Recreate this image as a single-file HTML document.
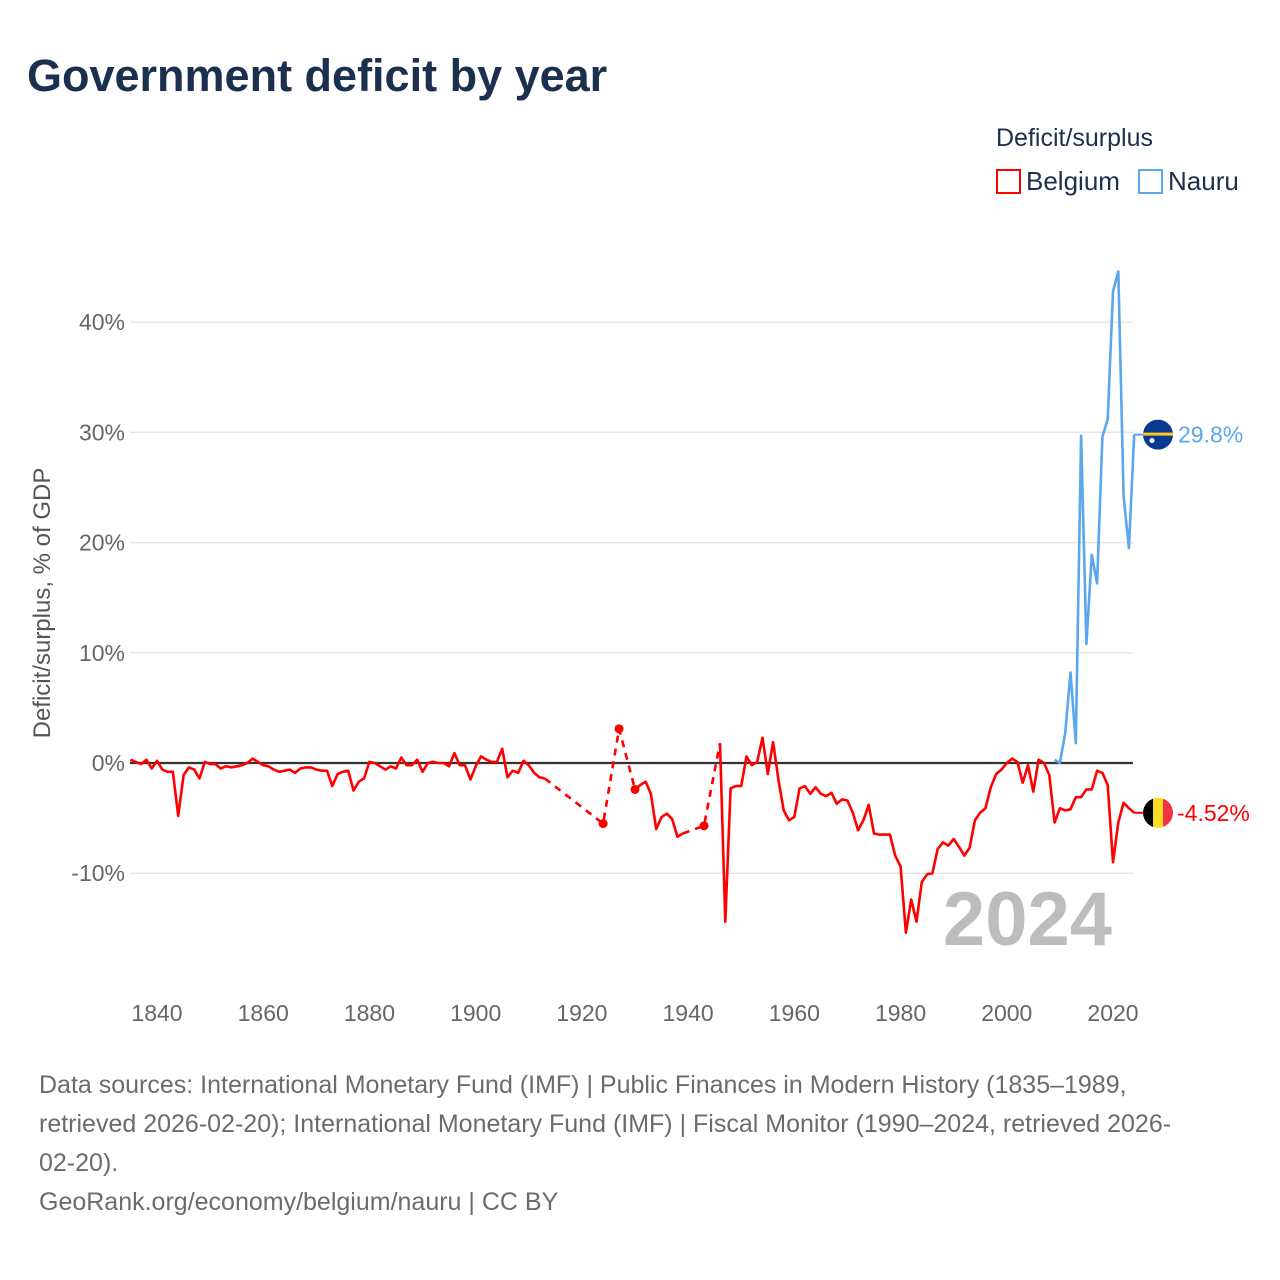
<!DOCTYPE html>
<html><head><meta charset="utf-8"><style>
body{margin:0;background:#fff;font-family:"Liberation Sans",sans-serif;}
#wrap{position:relative;width:1280px;height:1280px;overflow:hidden;}
.t{position:absolute;white-space:nowrap;}
</style></head><body>
<div id="wrap">
<div class="t" style="left:27px;top:50px;font-size:45px;font-weight:bold;color:#1b2f4e;">Government deficit by year</div>
<div class="t" style="left:996px;top:124px;font-size:25px;color:#1b2f4e;">Deficit/surplus</div>
<div class="t" style="left:996px;top:166px;font-size:26px;color:#1b2f4e;"><span style="display:inline-block;width:25px;height:25px;border:2px solid #ff0000;vertical-align:-4px;margin-right:5px;box-sizing:border-box;"></span>Belgium</div>
<div class="t" style="left:1138px;top:166px;font-size:26px;color:#1b2f4e;"><span style="display:inline-block;width:25px;height:25px;border:2px solid #5aa6ef;vertical-align:-4px;margin-right:5px;box-sizing:border-box;"></span>Nauru</div>
<svg id="chart" width="1280" height="1280" style="position:absolute;left:0;top:0;"></svg>
<div class="t" style="left:39px;top:1066px;font-size:25px;line-height:39px;color:#6b6b6b;">Data sources: International Monetary Fund (IMF) | Public Finances in Modern History (1835–1989,<br>retrieved 2026-02-20); International Monetary Fund (IMF) | Fiscal Monitor (1990–2024, retrieved 2026-<br>02-20).<br>GeoRank.org/economy/belgium/nauru | CC BY</div>
</div>
<script>
const yTicks=[-10,0,10,20,30,40];
const xTicks=[1840,1860,1880,1900,1920,1940,1960,1980,2000,2020];
const belA_years=[1835,1836,1837,1838,1839,1840,1841,1842,1843,1844,1845,1846,1847,1848,1849,1850,1851,1852,1853,1854,1855,1856,1857,1858,1859,1860,1861,1862,1863,1864,1865,1866,1867,1868,1869,1870,1871,1872,1873,1874,1875,1876,1877,1878,1879,1880,1881,1882,1883,1884,1885,1886,1887,1888,1889,1890,1891,1892,1893,1894,1895,1896,1897,1898,1899,1900,1901,1902,1903,1904,1905,1906,1907,1908,1909,1910,1911,1912,1913];
const belA_vals=[0.3,0.1,-0.1,0.3,-0.5,0.2,-0.6,-0.8,-0.8,-4.8,-1.1,-0.4,-0.6,-1.4,0.1,-0.1,-0.1,-0.5,-0.3,-0.4,-0.3,-0.2,0.0,0.4,0.1,-0.2,-0.3,-0.6,-0.8,-0.7,-0.6,-0.9,-0.5,-0.4,-0.4,-0.6,-0.7,-0.7,-2.1,-1.0,-0.8,-0.7,-2.5,-1.7,-1.4,0.1,0.0,-0.3,-0.6,-0.3,-0.5,0.5,-0.2,-0.2,0.3,-0.8,0.0,0.1,0.0,0.0,-0.3,0.9,-0.2,-0.2,-1.5,-0.3,0.6,0.3,0.1,0.1,1.3,-1.3,-0.7,-0.9,0.2,-0.2,-0.9,-1.3,-1.4];
const belB_years=[1931,1932,1933,1934,1935,1936,1937,1938,1939];
const belB_vals=[-2.0,-1.7,-2.8,-6.0,-4.9,-4.6,-5.1,-6.7,-6.4];
const belC_years=[1946,1947,1948,1949,1950,1951,1952,1953,1954,1955,1956,1957,1958,1959,1960,1961,1962,1963,1964,1965,1966,1967,1968,1969,1970,1971,1972,1973,1974,1975,1976,1977,1978,1979,1980,1981,1982,1983,1984,1985,1986,1987,1988,1989,1990,1991,1992,1993,1994,1995,1996,1997,1998,1999,2000,2001,2002,2003,2004,2005,2006,2007,2008,2009,2010,2011,2012,2013,2014,2015,2016,2017,2018,2019,2020,2021,2022,2023,2024];
const belC_vals=[1.8,-14.4,-2.3,-2.1,-2.1,0.6,-0.2,0.1,2.3,-1.0,1.9,-1.5,-4.3,-5.2,-4.9,-2.3,-2.1,-2.8,-2.2,-2.8,-3.0,-2.7,-3.7,-3.3,-3.4,-4.5,-6.1,-5.2,-3.8,-6.4,-6.5,-6.5,-6.5,-8.4,-9.4,-15.4,-12.4,-14.4,-10.8,-10.1,-10.0,-7.8,-7.2,-7.5,-6.9,-7.6,-8.4,-7.7,-5.2,-4.5,-4.1,-2.2,-1.0,-0.6,0.0,0.4,0.1,-1.8,-0.2,-2.6,0.3,0.0,-1.1,-5.4,-4.1,-4.3,-4.2,-3.1,-3.1,-2.4,-2.4,-0.7,-0.9,-2.0,-9.0,-5.4,-3.6,-4.1,-4.52];
const belPoint_years=[1924,1927,1930,1943];
const belPoint_vals=[-5.5,3.1,-2.4,-5.7];
const nauru_years=[2009,2010,2011,2012,2013,2014,2015,2016,2017,2018,2019,2020,2021,2022,2023,2024];
const nauru_vals=[0.3,0.0,2.7,8.2,1.8,29.7,10.8,18.9,16.3,29.6,31.2,42.8,44.6,24.2,19.5,29.8];

const X=y=>157+(y-1840)*(1113-157)/180;
const Y=v=>763-v*11.02;
const svg=document.getElementById('chart');
const NS='http://www.w3.org/2000/svg';
function mk(tag,attrs){const e=document.createElementNS(NS,tag);for(const k in attrs)e.setAttribute(k,attrs[k]);svg.appendChild(e);return e;}
yTicks.forEach(v=>{
 if(v!==0){const g=mk('line',{x1:130,x2:1133,y1:Y(v),y2:Y(v),stroke:'#e6e6e6','stroke-width':1.5});
 
 }
 const t=mk('text',{x:125,y:Y(v)+8,'text-anchor':'end','font-size':23,fill:'#666','font-family':'Liberation Sans, sans-serif'});
 t.textContent=v+'%';
 
 
});
xTicks.forEach(y=>{
 const t=mk('text',{x:X(y),y:1021,'text-anchor':'middle','font-size':23,fill:'#666','font-family':'Liberation Sans, sans-serif'});
 t.textContent=y;
 
 
});
const yt=mk('text',{transform:'translate(50,603) rotate(-90)','text-anchor':'middle','font-size':24,fill:'#555','font-family':'Liberation Sans, sans-serif'});
yt.textContent='Deficit/surplus, % of GDP';


const yr=mk('text',{x:1112,y:945,'text-anchor':'end','font-size':76,'font-weight':'bold',fill:'#bdbdbd','font-family':'Liberation Sans, sans-serif'});
yr.textContent='2024';


const zl=mk('line',{x1:130,x2:1133,y1:Y(0),y2:Y(0),stroke:'#333','stroke-width':2.2});


function pts(ys,vs){return ys.map((y,i)=>X(y).toFixed(1)+','+Y(vs[i]).toFixed(1)).join(' ');}
function line(ys,vs,col,dash,name){const p=mk('polyline',{points:pts(ys,vs),fill:'none',stroke:col,'stroke-width':2.6,'stroke-linejoin':'round'});if(dash)p.setAttribute('stroke-dasharray','7,6');
 
 }
line([1913,1924,1927,1930,1931],[belA_vals[belA_vals.length-1],belPoint_vals[0],belPoint_vals[1],belPoint_vals[2],belB_vals[0]],'#ff0000',true,'belgium-gap-1');
line([1939,1943,1946],[belB_vals[belB_vals.length-1],belPoint_vals[3],belC_vals[0]],'#ff0000',true,'belgium-gap-2');
line(belA_years,belA_vals,'#ff0000',false,'belgium-line-a');
line(belB_years,belB_vals,'#ff0000',false,'belgium-line-b');
line(belC_years,belC_vals,'#ff0000',false,'belgium-line-c');
belPoint_years.forEach((y,i)=>{const c=mk('circle',{cx:X(y),cy:Y(belPoint_vals[i]),r:4.5,fill:'#ff0000'});
 
 });
line(nauru_years,nauru_vals,'#5aa6ef',false,'nauru-line');
const nv=nauru_vals[nauru_vals.length-1], bv=belC_vals[belC_vals.length-1];
const nx=X(2024);
const nl=mk('line',{x1:nx,x2:1143,y1:Y(nv),y2:Y(nv),stroke:'#5aa6ef','stroke-width':2});


const bl=mk('line',{x1:nx,x2:1143,y1:Y(bv),y2:Y(bv),stroke:'#ff0000','stroke-width':2});


const g1=mk('g',{});


g1.innerHTML=`<clipPath id="cn"><circle cx="1158" cy="${Y(nv)}" r="15"/></clipPath><g clip-path="url(#cn)"><rect x="1143" y="${Y(nv)-15}" width="30" height="30" fill="#0a3a8f"/><rect x="1143" y="${Y(nv)-2}" width="30" height="3" fill="#ffc61e"/><circle cx="1152" cy="${Y(nv)+6}" r="2.5" fill="#fff"/></g>`;
const g2=mk('g',{});


g2.innerHTML=`<clipPath id="cb"><circle cx="1158" cy="${Y(bv)}" r="15"/></clipPath><g clip-path="url(#cb)"><rect x="1143" y="${Y(bv)-15}" width="10" height="30" fill="#000"/><rect x="1153" y="${Y(bv)-15}" width="10" height="30" fill="#fdda24"/><rect x="1163" y="${Y(bv)-15}" width="10" height="30" fill="#ef3340"/></g>`;
const nt=mk('text',{x:1178,y:Y(nv)+8,'font-size':23,fill:'#5aa6ef','font-family':'Liberation Sans, sans-serif'});
nt.textContent=nv.toFixed(1)+'%';


const bt=mk('text',{x:1177,y:Y(bv)+8,'font-size':23,fill:'#ff0000','font-family':'Liberation Sans, sans-serif'});
bt.textContent=bv.toFixed(2)+'%';


</script>
</body></html>
